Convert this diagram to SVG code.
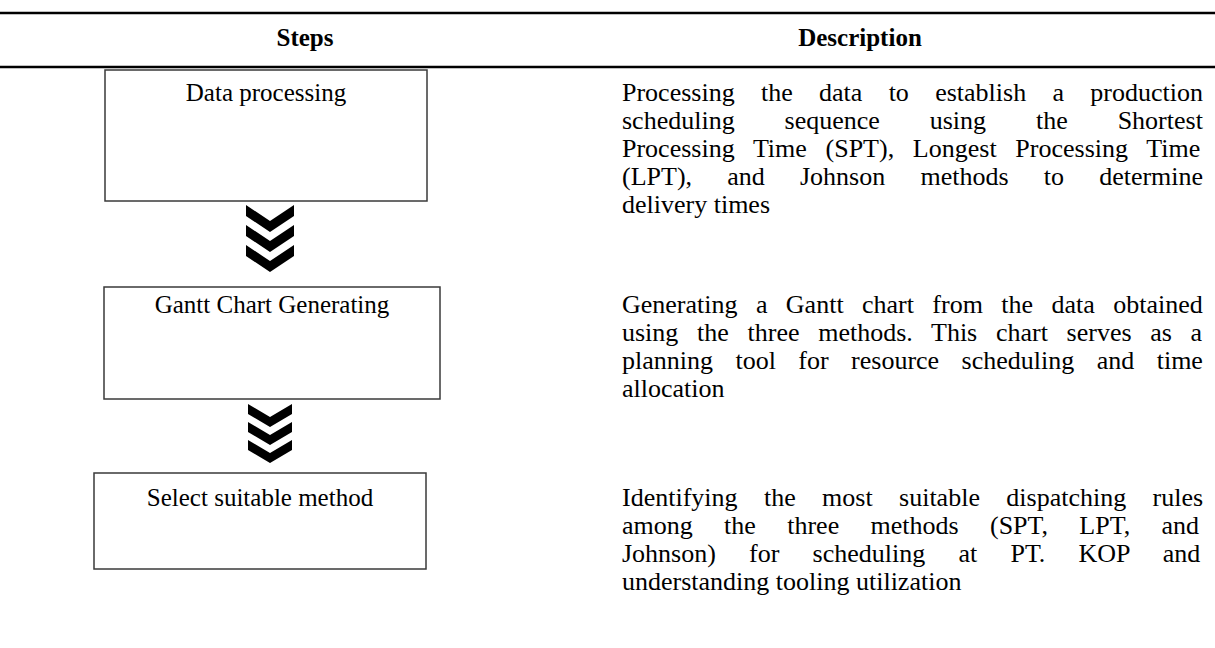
<svg xmlns="http://www.w3.org/2000/svg" width="1215" height="648" viewBox="0 0 1215 648">
<style>
.rule{stroke:#000;stroke-width:2.5}
.box{fill:#fff;stroke:#3a3a3a;stroke-width:1.5}
.lbl{font-family:"Liberation Serif","Times New Roman",serif;font-size:25px;fill:#000;text-anchor:middle}
.hdr{font-family:"Liberation Serif","Times New Roman",serif;font-size:25px;font-weight:bold;fill:#000;text-anchor:middle}
.desc{font-family:"Liberation Serif","Times New Roman",serif;font-size:26px;fill:#000}
.chev{fill:#000}
</style>
<rect width="1215" height="648" fill="#fff"/>
<line class="rule" x1="0" y1="13" x2="1215" y2="13"/>
<line class="rule" x1="0" y1="67" x2="1215" y2="67"/>
<text class="hdr" x="305" y="46">Steps</text>
<text class="hdr" x="860" y="46">Description</text>

<g id="step1">
<rect class="box" x="105" y="70" width="322" height="131"/>
<text class="lbl" x="266" y="101">Data processing</text>
</g>
<g id="step2">
<rect class="box" x="104" y="287" width="336" height="112"/>
<text class="lbl" x="272" y="313">Gantt Chart Generating</text>
</g>
<g id="step3">
<rect class="box" x="94" y="473" width="332" height="96"/>
<text class="lbl" x="260" y="506">Select suitable method</text>
</g>

<g id="connectors">
<g id="chevrons1" class="chev">
<polygon points="246,205 270,221 294,205 294,216 270,232 246,216"/>
<polygon points="246,225 270,241 294,225 294,236 270,252 246,236"/>
<polygon points="246,245 270,261 294,245 294,256 270,272 246,256"/>
</g>
<g id="chevrons2" class="chev">
<polygon points="248,404 270,417 292,404 292,414 270,427 248,414"/>
<polygon points="248,422 270,435 292,422 292,432 270,445 248,432"/>
<polygon points="248,440 270,453 292,440 292,450 270,463 248,450"/>
</g>
</g>

<g id="desc1">
<text class="desc" x="622" y="101" word-spacing="19.8">Processing the data to establish a production</text>
<text class="desc" x="622" y="129" word-spacing="43.4">scheduling sequence using the Shortest</text>
<text class="desc" x="622" y="157" word-spacing="12.2">Processing Time (SPT), Longest Processing Time</text>
<text class="desc" x="622" y="185" word-spacing="28.7">(LPT), and Johnson methods to determine</text>
<text class="desc" x="622" y="213">delivery times</text>
</g>
<g id="desc2">
<text class="desc" x="622" y="313" word-spacing="11.9">Generating a Gantt chart from the data obtained</text>
<text class="desc" x="622" y="341" word-spacing="12.2">using the three methods. This chart serves as a</text>
<text class="desc" x="622" y="369" word-spacing="15.95">planning tool for resource scheduling and time</text>
<text class="desc" x="622" y="397">allocation</text>
</g>
<g id="desc3">
<text class="desc" x="622" y="506" word-spacing="19.9">Identifying the most suitable dispatching rules</text>
<text class="desc" x="622" y="534" word-spacing="24.85">among the three methods (SPT, LPT, and</text>
<text class="desc" x="622" y="562" word-spacing="26.7">Johnson) for scheduling at PT. KOP and</text>
<text class="desc" x="622" y="590">understanding tooling utilization</text>
</g>
</svg>
